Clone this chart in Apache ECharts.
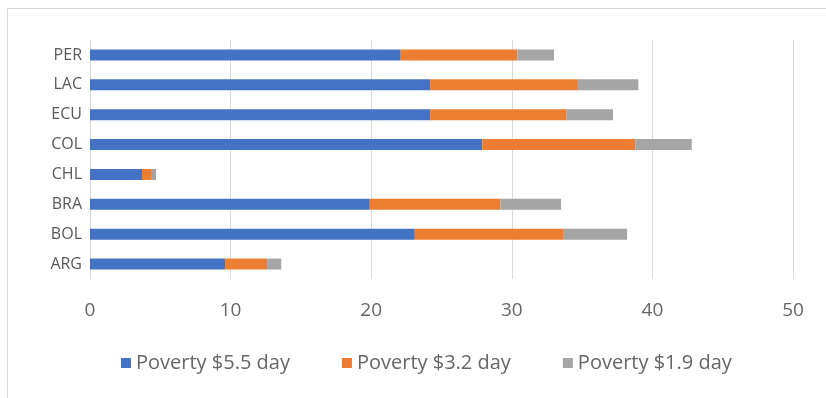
<!DOCTYPE html>
<html>
<head>
<meta charset="utf-8">
<script src="https://cdn.jsdelivr.net/npm/echarts@6/dist/echarts.min.js"></script>
<style>
  html, body { margin: 0; padding: 0; background: #fff; }
  #frame { position: absolute; left: 7px; top: 8px; width: 830px; height: 400px; border: 1px solid #d9d9d9; }
  #container { position: absolute; left: 0; top: 0; width: 826px; height: 398px; }
</style>
</head>
<body>
<div id="frame"></div>
<div id="container"></div>
<script>
let countries = ['ARG', 'BOL', 'BRA', 'CHL', 'COL', 'ECU', 'LAC', 'PER'];
let pov55 = [9.6, 23.1, 19.9, 3.7, 27.9, 24.2, 24.2, 22.1];
let pov32 = [3.0, 10.6, 9.3, 0.7, 10.9, 9.7, 10.5, 8.3];
let pov19 = [1.0, 4.5, 4.3, 0.3, 4.0, 3.3, 4.3, 2.6];
let seriesNames = ['Poverty $5.5 day', 'Poverty $3.2 day', 'Poverty $1.9 day'];
let colors = ['#4472C4', '#ED7D31', '#A5A5A5'];

var myChart = echarts.init(document.getElementById('container'));
let font = 'Open Sans';

let option = {
  animation: false,
  color: colors,
  grid: {
    left: 90,
    right: 33,
    top: 40,
    bottom: 119,
  },
  legend: {
    bottom: 20,
    left: 116,
    itemWidth: 10,
    itemHeight: 10,
    itemGap: 52,
    icon: 'rect',
    textStyle: { fontFamily: font, fontSize: 20, color: '#666666' },
    data: seriesNames,
  },
  xAxis: {
    type: 'value',
    min: 0,
    max: 50,
    interval: 10,
    axisLine: { show: false },
    axisTick: { show: false },
    splitLine: { lineStyle: { color: '#d9d9d9' } },
    axisLabel: { fontFamily: font, fontSize: 19, color: '#666666', margin: 22 },
  },
  yAxis: {
    type: 'category',
    data: countries,
    axisLine: { show: false },
    axisTick: { show: false },
    axisLabel: { fontFamily: font, fontSize: 16, color: '#595959', margin: 8 },
  },
  series: [
    { name: seriesNames[0], type: 'bar', stack: 'p', data: pov55, barWidth: 11 },
    { name: seriesNames[1], type: 'bar', stack: 'p', data: pov32, barWidth: 11 },
    { name: seriesNames[2], type: 'bar', stack: 'p', data: pov19, barWidth: 11 },
  ],
};

myChart.setOption(option);
</script>
</body>
</html>
